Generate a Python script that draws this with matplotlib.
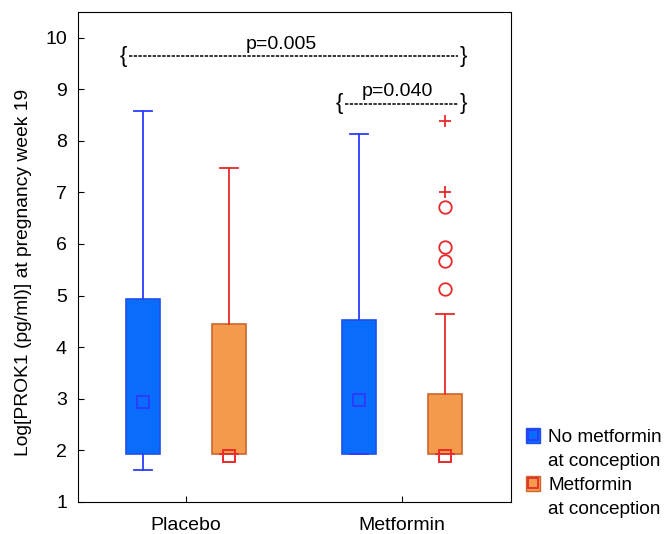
import matplotlib.pyplot as plt
from matplotlib.patches import Patch
from matplotlib.lines import Line2D
from matplotlib.legend_handler import HandlerTuple

plt.rcParams['font.family'] = ['Liberation Sans', 'DejaVu Sans']

groups = ['Placebo', 'Metformin']
series = ['No metformin', 'Metformin']

# box stats per group: [no metformin, metformin at conception]
q1 = [[1.92, 1.92], [1.92, 1.92]]
q3 = [[4.93, 4.45], [4.52, 3.10]]
med = [[2.93, 1.90], [2.97, 1.90]]
whislo = [[1.61, 1.92], [1.92, 1.92]]
whishi = [[8.57, 7.47], [8.13, 4.65]]

# outliers (circles) and extremes (plus) for metformin/metformin group
outliers = [5.13, 5.66, 5.94, 6.72]
extremes = [7.01, 8.38]

fill = ['#0a6cfa', '#f49a4c']
edge = ['#1f50e8', '#c8672c']
line = ['#2b3cff', '#e82a2a']

offsets = [-0.2, 0.2]
width = 0.157

fig = plt.figure(figsize=(6.67, 5.34), dpi=100)
ax = fig.add_axes([0.117, 0.06, 0.649, 0.918])

for s in range(2):
    stats = []
    pos = []
    for g in range(2):
        stats.append(dict(med=med[g][s], q1=q1[g][s], q3=q3[g][s],
                          whislo=whislo[g][s], whishi=whishi[g][s], fliers=[]))
        pos.append(g + 1 + offsets[s])
    ax.bxp(stats, positions=pos, widths=width, capwidths=0.083,
           showfliers=False, patch_artist=True,
           boxprops=dict(facecolor=fill[s], edgecolor=edge[s], linewidth=1.2),
           whiskerprops=dict(color=line[s], linewidth=1.3),
           capprops=dict(color=line[s], linewidth=1.3),
           medianprops=dict(linewidth=0), zorder=2)
    ax.plot(pos, [med[0][s], med[1][s]], ls='none', marker='s', ms=8,
            mfc='none', mec=line[s], mew=1.4, zorder=3)

ax.plot([2.2] * len(outliers), outliers, ls='none', marker='o', ms=9,
        mfc='none', mec='#e82a2a', mew=1.3)
ax.plot([2.2] * len(extremes), extremes, ls='none', marker='+', ms=9,
        color='#e82a2a', mew=1.3)

# significance brackets
def bracket(x0, x1, y, label, xt):
    ax.plot([x0 + 0.025, x1 - 0.025], [y, y], ls=(0, (2.2, 0.9)), color='black', lw=1.1)
    ax.text(x0, y, '{', ha='center', va='center', fontsize=16)
    ax.text(x1, y, '}', ha='center', va='center', fontsize=16)
    ax.text(xt, y + 0.07, label, ha='center', va='bottom', fontsize=14)

bracket(0.71, 2.285, 9.64, 'p=0.005', 1.44)
bracket(1.71, 2.285, 8.72, 'p=0.040', 1.98)

ax.set_xlim(0.5, 2.505)
ax.set_ylim(1, 10.5)
ax.set_xticks([1, 2])
ax.set_xticklabels(groups)
ax.set_yticks(range(1, 11))
ax.tick_params(direction='in', labelsize=14, length=4)
ax.tick_params(axis='x', pad=11)
ax.tick_params(axis='y', pad=8)
ax.set_ylabel('Log[PROK1 (pg/ml)] at pregnancy week 19', fontsize=13.9)
ax.yaxis.set_label_coords(-0.106, 0.469)

# legend: handle on first line, "at conception" as a second row without handle
blank = Patch(facecolor='none', edgecolor='none')
handles, labels = [], []
for s in range(2):
    handles.append((Patch(facecolor=fill[s], edgecolor=edge[s]),
                    Line2D([], [], ls='none', marker='s', ms=7, mfc='none',
                           mec=line[s], mew=1.3)))
    labels.append(series[s])
    handles.append(blank)
    labels.append('at conception')
fig.legend(handles, labels, handler_map={tuple: HandlerTuple(ndivide=1)},
           loc='lower left', bbox_to_anchor=(0.788, 0.03), frameon=False,
           borderpad=0, borderaxespad=0,
           fontsize=13.7, handlelength=0.78, handleheight=0.85, handletextpad=0.42,
           labelspacing=0.3)

fig.savefig('out.png', dpi=100)
